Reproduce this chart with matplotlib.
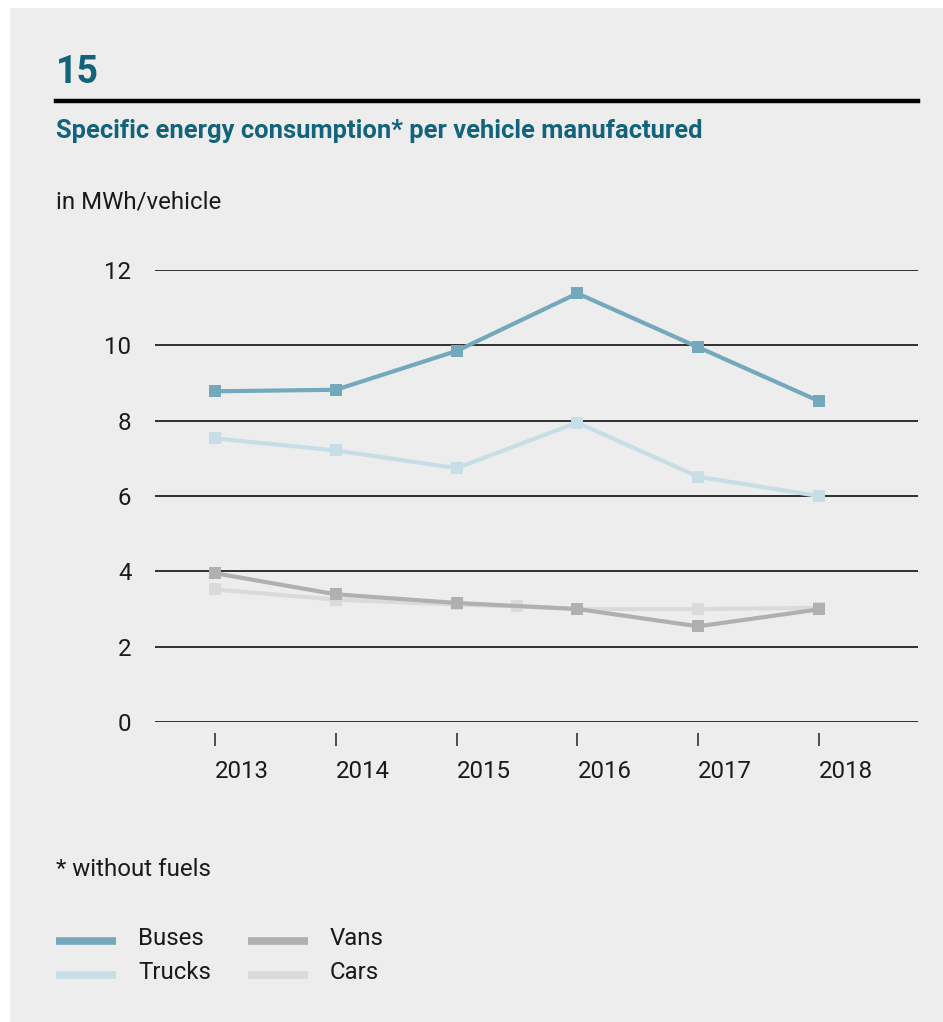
import matplotlib
matplotlib.use("Agg")
import matplotlib.pyplot as plt
from matplotlib.lines import Line2D
from matplotlib.patches import Rectangle

plt.rcParams['font.family'] = ['Roboto', 'DejaVu Sans']

years = [2013, 2014, 2015, 2016, 2017, 2018]
buses = [8.78, 8.82, 9.85, 11.38, 9.95, 8.52]
trucks = [7.53, 7.21, 6.74, 7.95, 6.51, 6.0]
vans = [3.95, 3.39, 3.16, 3.0, 2.54, 2.99]
cars_x = [2013, 2014, 2015, 2015.5, 2016, 2017, 2018]
cars = [3.52, 3.25, 3.12, 3.07, 3.0, 3.0, 3.03]
yticks = [0, 2, 4, 6, 8, 10, 12]

series = [
    ("Buses", years, buses, "#74a9bd"),
    ("Trucks", years, trucks, "#c8dee6"),
    ("Vans", years, vans, "#b0b0b0"),
    ("Cars", cars_x, cars, "#dadada"),
]

W, H = 943, 1022
fig = plt.figure(figsize=(W / 100, H / 100), dpi=100)
fig.patch.set_facecolor("white")
fig.patches.append(Rectangle((10 / W, 0), 1 - 10 / W, 1 - 8 / H, transform=fig.transFigure,
                             facecolor="#ededed", edgecolor="none", zorder=-10))

teal = "#12637b"
txt = "#1a1a1a"
fs = 17.3
fig.text(56 / W, 1 - 83 / H, "15", fontsize=27, fontweight="bold", color=teal, va="baseline", ha="left")
fig.add_artist(Line2D([56 / W, 918 / W], [1 - 101 / H, 1 - 101 / H], color="black", lw=3.2,
                      transform=fig.transFigure))
fig.text(56 / W, 1 - 138 / H, "Specific energy consumption* per vehicle manufactured", fontsize=18.4,
         fontweight="bold", color=teal, va="baseline", ha="left")
fig.text(56 / W, 1 - 208 / H, "in MWh/vehicle", fontsize=fs, color=txt, va="baseline", ha="left")
fig.text(56 / W, 1 - 876 / H, "* without fuels", fontsize=fs, color=txt, va="baseline", ha="left")

left, right = 155 / W, 918 / W
top, bottom = 1 - 270 / H, 1 - 722 / H
ax = fig.add_axes([left, bottom, right - left, top - bottom])
ax.set_facecolor("none")
ax.set_xlim(2012.503, 2018.82)
ax.set_ylim(0, 12)
for s in ["top", "right", "left"]:
    ax.spines[s].set_visible(False)
ax.spines["bottom"].set_position(("outward", 8))
ax.spines["bottom"].set_visible(False)

for v in yticks:
    ax.axhline(v, color="#111111", lw=1.2, zorder=1)

ax.set_yticks(yticks)
ax.set_yticklabels([str(v) for v in yticks], fontsize=fs, color=txt)
ax.tick_params(axis="y", length=0, pad=17)

ax.set_xticks(years)
ax.set_xticklabels([str(y) for y in years], fontsize=fs, color=txt, ha="left")
ax.tick_params(axis="x", direction="out", length=9.5, width=1.1, color="#222222", pad=10)

for name, xs, ys, c in series[::-1]:
    ax.plot(xs, ys, color=c, lw=3, marker="s", markersize=9, markeredgewidth=0,
            solid_joinstyle="miter", clip_on=False, zorder=3)

# legend (two columns)
col_x = [56, 248]
row_y = [941, 975]
for i, (name, _, _, c) in enumerate(series):
    cx = col_x[i // 2]
    ry = row_y[i % 2]
    fig.add_artist(Line2D([cx / W, (cx + 60) / W], [1 - ry / H, 1 - ry / H], color=c, lw=5.5,
                          solid_capstyle="butt", transform=fig.transFigure))
    fig.text((cx + 82) / W, 1 - (ry + 4) / H, name, fontsize=fs, color=txt, va="baseline", ha="left")

fig.savefig("out.png", dpi=100, facecolor=fig.get_facecolor())
